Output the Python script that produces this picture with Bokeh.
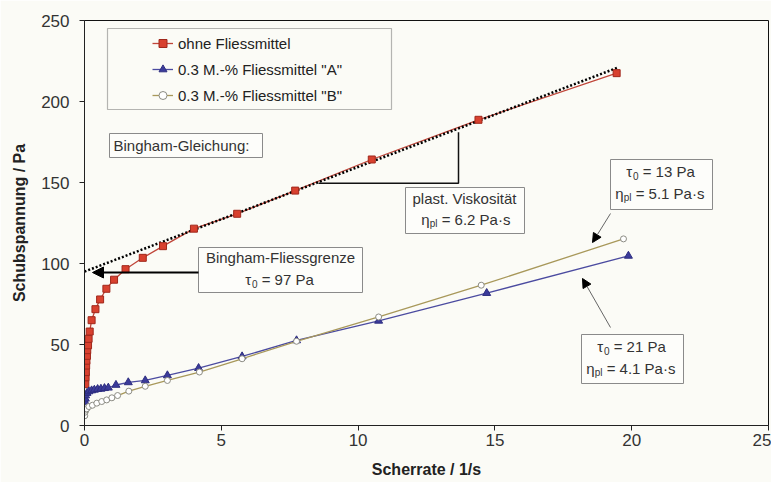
from bokeh.plotting import figure
from bokeh.models import Label, BoxAnnotation, Arrow, NormalHead
from bokeh.embed import file_html
from bokeh.resources import INLINE

# ---------------- data ----------------
x_ticks = [0, 5, 10, 15, 20, 25]
y_ticks = [0, 50, 100, 150, 200, 250]

shear_ohne = [0.03, 0.04, 0.05, 0.06, 0.07, 0.09, 0.10, 0.13, 0.15, 0.19, 0.26, 0.40,
              0.57, 0.80, 1.08, 1.50, 2.13, 2.87, 4.00, 5.58, 7.70, 10.50, 14.40, 19.45]
stress_ohne = [25.5, 29.8, 33.0, 37.0, 40.0, 43.0, 46.5, 49.5, 53.5, 58.0, 65.0, 71.8,
               77.8, 84.4, 90.0, 96.5, 103.5, 110.7, 121.5, 130.7, 145.0, 164.2, 188.7, 217.5]

shear_A = [0.02, 0.03, 0.04, 0.09, 0.16, 0.26, 0.36, 0.48, 0.60, 0.73, 0.87, 1.15,
           1.60, 2.22, 3.03, 4.17, 5.76, 7.75, 10.75, 14.70, 19.88]
stress_A = [14.5, 16.5, 18.5, 20.0, 21.0, 21.6, 22.0, 22.4, 22.6, 23.0, 23.3, 25.0,
            26.6, 27.8, 30.9, 35.4, 42.6, 52.5, 64.6, 81.7, 104.7]

shear_B = [0.01, 0.02, 0.05, 0.08, 0.16, 0.29, 0.45, 0.63, 0.81, 1.00, 1.21, 1.62,
           2.22, 3.03, 4.20, 5.76, 7.75, 10.75, 14.50, 19.70]
stress_B = [6.0, 8.2, 9.5, 10.3, 11.7, 12.5, 13.8, 14.8, 15.8, 17.1, 18.5, 21.2,
            24.2, 27.8, 33.0, 41.2, 52.0, 67.0, 86.6, 115.2]

bingham_x = [0.0, 19.5]
bingham_y = [95.0, 221.0]

labels = ["ohne Fliessmittel", '0.3 M.-% Fliessmittel "A"', '0.3 M.-% Fliessmittel "B"']

# ---------------- styling ----------------
FONT = "Liberation Sans"
BG = "#fbfbf6"
TXT = "#333333"

p = figure(frame_width=684, frame_height=405, x_range=(0, 25), y_range=(0, 250),
           output_backend="svg", toolbar_location=None,
           min_border_left=84, min_border_right=3, min_border_top=20, min_border_bottom=57)
p.background_fill_color = BG
p.border_fill_color = BG
p.outline_line_color = "#111111"
p.outline_line_width = 1
p.xgrid.visible = False
p.ygrid.visible = False

p.xaxis.ticker = x_ticks
p.yaxis.ticker = y_ticks
for ax in (p.xaxis[0], p.yaxis[0]):
    ax.axis_line_color = "#222222"
    ax.major_tick_line_color = "#222222"
    ax.major_tick_out = 5
    ax.major_tick_in = 0
    ax.minor_tick_out = 0
    ax.minor_tick_in = 0
    ax.major_label_text_font = FONT
    ax.major_label_text_font_size = "17px"
    ax.major_label_text_color = TXT
    ax.axis_label_text_font = FONT
    ax.axis_label_text_font_size = "16px"
    ax.axis_label_text_font_style = "bold"
    ax.axis_label_text_color = "#222222"
p.xaxis.axis_label = "Scherrate / 1/s"
p.yaxis.axis_label = "Schubspannung / Pa"
p.xaxis.major_label_standoff = 3
p.yaxis.major_label_standoff = 10
p.xaxis.axis_label_standoff = 12
p.yaxis.axis_label_standoff = 10

# ---------------- series ----------------
p.line(shear_ohne, stress_ohne, line_color="#c0463a", line_width=1.3, legend_label=labels[0])
p.line(bingham_x, bingham_y, line_color="black", line_width=2.5, line_dash="2 2")
p.scatter(shear_ohne, stress_ohne, marker="square", size=7, fill_color="#d8412f",
          line_color="#a0281c", legend_label=labels[0])

p.line(shear_A, stress_A, line_color="#4b4ba0", line_width=1.3, legend_label=labels[1])
p.scatter(shear_A, stress_A, marker="triangle", size=8, fill_color="#3b3b9a",
          line_color="#2e2e80", legend_label=labels[1])

p.line(shear_B, stress_B, line_color="#a8985a", line_width=1.3, legend_label=labels[2])
p.scatter(shear_B, stress_B, marker="circle", size=6, fill_color="white",
          line_color="#8c8c84", line_width=1, legend_label=labels[2])

# ---------------- helpers for annotation placement (reference pixel -> data) ----------------
def px_x(px):
    return (px - 84) / 684 * 25

def px_y(py):
    return (425 - py) / 405 * 250

W = {' ': .278, '"': .355, '%': .889, '-': .333, '.': .278, '/': .278, ':': .278, '=': .584,
     'A': .667, 'B': .667, 'F': .611, 'G': .778, 'M': .833, 'P': .667, 'V': .667,
     'a': .556, 'b': .556, 'c': .5, 'd': .556, 'e': .556, 'g': .556, 'h': .556, 'i': .222,
     'k': .5, 'l': .222, 'm': .833, 'n': .556, 'o': .556, 'p': .556, 'r': .333, 's': .5,
     't': .278, 'u': .556, 'z': .5, 'ä': .556, '·': .278, 'τ': .45, 'η': .556}

def tw(s, size):
    return sum(W.get(c, .556) for c in s) * size

def rich(cx, cy, pieces):
    total = sum(tw(t, s) for t, s, dy in pieces)
    x = cx - total / 2
    for t, s, dy in pieces:
        lead = len(t) - len(t.lstrip(' '))
        x += tw(' ' * lead, s)
        t2 = t.lstrip(' ')
        p.add_layout(Label(x=px_x(x), y=px_y(cy + dy), text=t2, text_font=FONT,
                           text_font_size=f"{s}px", text_baseline="middle", text_align="left",
                           text_color=TXT))
        x += tw(t2, s)

def box(l, t, r, b, color="#8a8a8a", width=1):
    p.add_layout(BoxAnnotation(left=px_x(l), right=px_x(r), top=px_y(t), bottom=px_y(b),
                               fill_color="#fdfdfa", fill_alpha=1, line_color=color,
                               line_width=width, line_alpha=1))

# legend frame
p.add_layout(BoxAnnotation(left=px_x(107), right=px_x(391), top=px_y(28), bottom=px_y(109),
                           fill_alpha=0, line_color="#111111", line_width=1.2))

# legend
lg = p.legend[0]
lg.location = (68, 320)
lg.padding = 0
lg.margin = 0
lg.spacing = 6
lg.glyph_width = 21
lg.glyph_height = 20
lg.label_height = 20
lg.label_standoff = 5
lg.label_text_font = FONT
lg.label_text_font_size = "15px"
lg.label_text_color = "#222222"
lg.border_line_alpha = 0
lg.background_fill_alpha = 0

# text boxes
box(109, 133, 262, 157)
box(198, 247, 362, 292)
box(405, 187, 524, 233)
box(610, 159, 712, 209)
box(581, 334, 683, 383)

def line_label(lx, cy, text, align="left"):
    p.add_layout(Label(x=px_x(lx), y=px_y(cy), text=text, text_font=FONT, text_font_size="15px",
                       text_baseline="middle", text_align=align, text_color=TXT))

line_label(113, 145, "Bingham-Gleichung:")
line_label(280, 257, "Bingham-Fliessgrenze", align="center")
rich(279, 279, [("τ", 15, 0), ("0", 10, 4), (" = 97 Pa", 15, 0)])
line_label(464, 198, "plast. Viskosität", align="center")
rich(465, 219, [("η", 15, 0), ("pl", 10, 4), (" = 6.2 Pa·s", 15, 0)])
rich(660, 171, [("τ", 15, 0), ("0", 10, 4), (" = 13 Pa", 15, 0)])
rich(659, 193, [("η", 15, 0), ("pl", 10, 4), (" = 5.1 Pa·s", 15, 0)])
rich(631, 346, [("τ", 15, 0), ("0", 10, 4), (" = 21 Pa", 15, 0)])
rich(630, 368, [("η", 15, 0), ("pl", 10, 4), (" = 4.1 Pa·s", 15, 0)])

# Bingham yield arrow
p.add_layout(Arrow(end=NormalHead(size=11, fill_color="black", line_color="black"),
                   x_start=px_x(198), y_start=px_y(272), x_end=px_x(92), y_end=px_y(272),
                   line_color="black", line_width=2))
# slope triangle
p.line([px_x(318), px_x(458), px_x(458)], [px_y(182.7), px_y(182.7), px_y(131.7)],
       line_color="#111111", line_width=1.5)
# thin arrows
p.add_layout(Arrow(end=NormalHead(size=9, fill_color="black", line_color="black"),
                   x_start=px_x(610), y_start=px_y(213), x_end=px_x(592), y_end=px_y(242),
                   line_color="#666666", line_width=1))
p.add_layout(Arrow(end=NormalHead(size=9, fill_color="black", line_color="black"),
                   x_start=px_x(610), y_start=px_y(327), x_end=px_x(582), y_end=px_y(278),
                   line_color="#666666", line_width=1))

open("out.html", "w").write(file_html(p, INLINE))
